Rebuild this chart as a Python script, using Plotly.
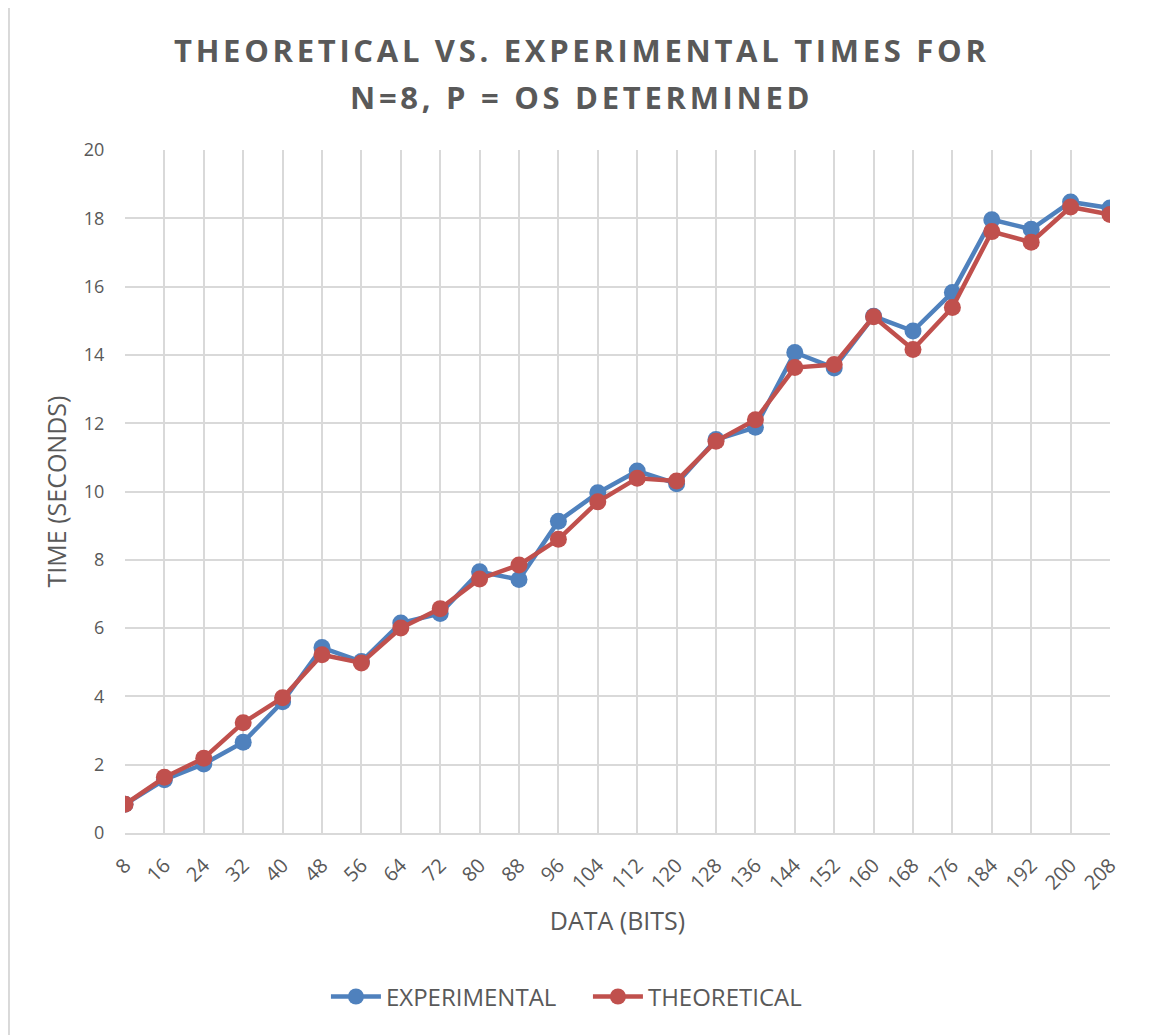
import plotly.graph_objects as go

data_bits = [8, 16, 24, 32, 40, 48, 56, 64, 72, 80, 88, 96, 104, 112, 120,
             128, 136, 144, 152, 160, 168, 176, 184, 192, 200, 208]
experimental = [0.84, 1.56, 2.02, 2.66, 3.84, 5.43, 5.02, 6.15, 6.43, 7.65, 7.42, 9.13, 9.96, 10.6, 10.23,
                11.52, 11.88, 14.07, 13.62, 15.13, 14.7, 15.83, 17.96, 17.68, 18.48, 18.3]
theoretical = [0.84, 1.63, 2.19, 3.23, 3.96, 5.22, 4.98, 6.0, 6.57, 7.44, 7.85, 8.6, 9.7, 10.39, 10.31,
               11.47, 12.1, 13.63, 13.72, 15.12, 14.16, 15.39, 17.61, 17.3, 18.33, 18.11]
title_lines = ["THEORETICAL VS. EXPERIMENTAL TIMES FOR", "N=8, P = OS DETERMINED"]

FONT = "Open Sans"
GRAY = "#595959"
GRID = "#d9d9d9"

fig = go.Figure()
fig.add_trace(go.Scatter(x=data_bits, y=experimental, name="EXPERIMENTAL",
                         mode="lines+markers",
                         line=dict(color="#4f81bd", width=4.5),
                         marker=dict(color="#4f81bd", size=17)))
fig.add_trace(go.Scatter(x=data_bits, y=theoretical, name="THEORETICAL",
                         mode="lines+markers",
                         line=dict(color="#c0504d", width=4.5),
                         marker=dict(color="#c0504d", size=17)))

annotations = []
for line, ypos in zip(title_lines, [1.1464, 1.0783]):
    annotations.append(dict(
        text='<b><span style="letter-spacing:3.7px">' + line + '</span></b>',
        xref="paper", yref="paper", x=0.4635, y=ypos,
        xanchor="center", yanchor="middle", showarrow=False,
        font=dict(family=FONT, size=31, color=GRAY)))

fig.update_layout(
    width=1157, height=1035,
    margin=dict(l=117, r=55, t=142, b=210),
    paper_bgcolor="white", plot_bgcolor="white",
    font=dict(family=FONT, color=GRAY),
    showlegend=True,
    xaxis=dict(range=[8, 208], tickvals=data_bits, ticktext=[str(v) for v in data_bits],
               tickangle=-45, showgrid=True, gridcolor=GRID, gridwidth=1.5,
               showline=True, linecolor=GRID, linewidth=1.5, zeroline=False,
               ticks="outside", ticklen=11, tickcolor="rgba(0,0,0,0)",
               tickfont=dict(size=20, color=GRAY),
               title=dict(text="DATA (BITS)", font=dict(size=25, color=GRAY), standoff=18)),
    yaxis=dict(range=[0, 20], dtick=2, showgrid=True, gridcolor=GRID, gridwidth=1.5,
               zeroline=False, showline=False,
               ticks="outside", ticklen=16, tickcolor="rgba(0,0,0,0)",
               tickfont=dict(size=18, color=GRAY),
               title=dict(text="TIME (SECONDS)", font=dict(size=25, color=GRAY), standoff=10)),
    legend=dict(orientation="h", x=0.204, xanchor="left", y=-0.240, yanchor="middle",
                font=dict(size=24, color=GRAY), traceorder="normal", itemwidth=50,
                entrywidth=197, entrywidthmode="pixels"),
    annotations=annotations,
    shapes=[dict(type="line", xref="paper", yref="paper",
                 x0=-0.1178, x1=-0.1178, y0=-0.35, y1=1.3,
                 line=dict(color=GRID, width=2), layer="below")],
)

fig.write_html("out.html")
